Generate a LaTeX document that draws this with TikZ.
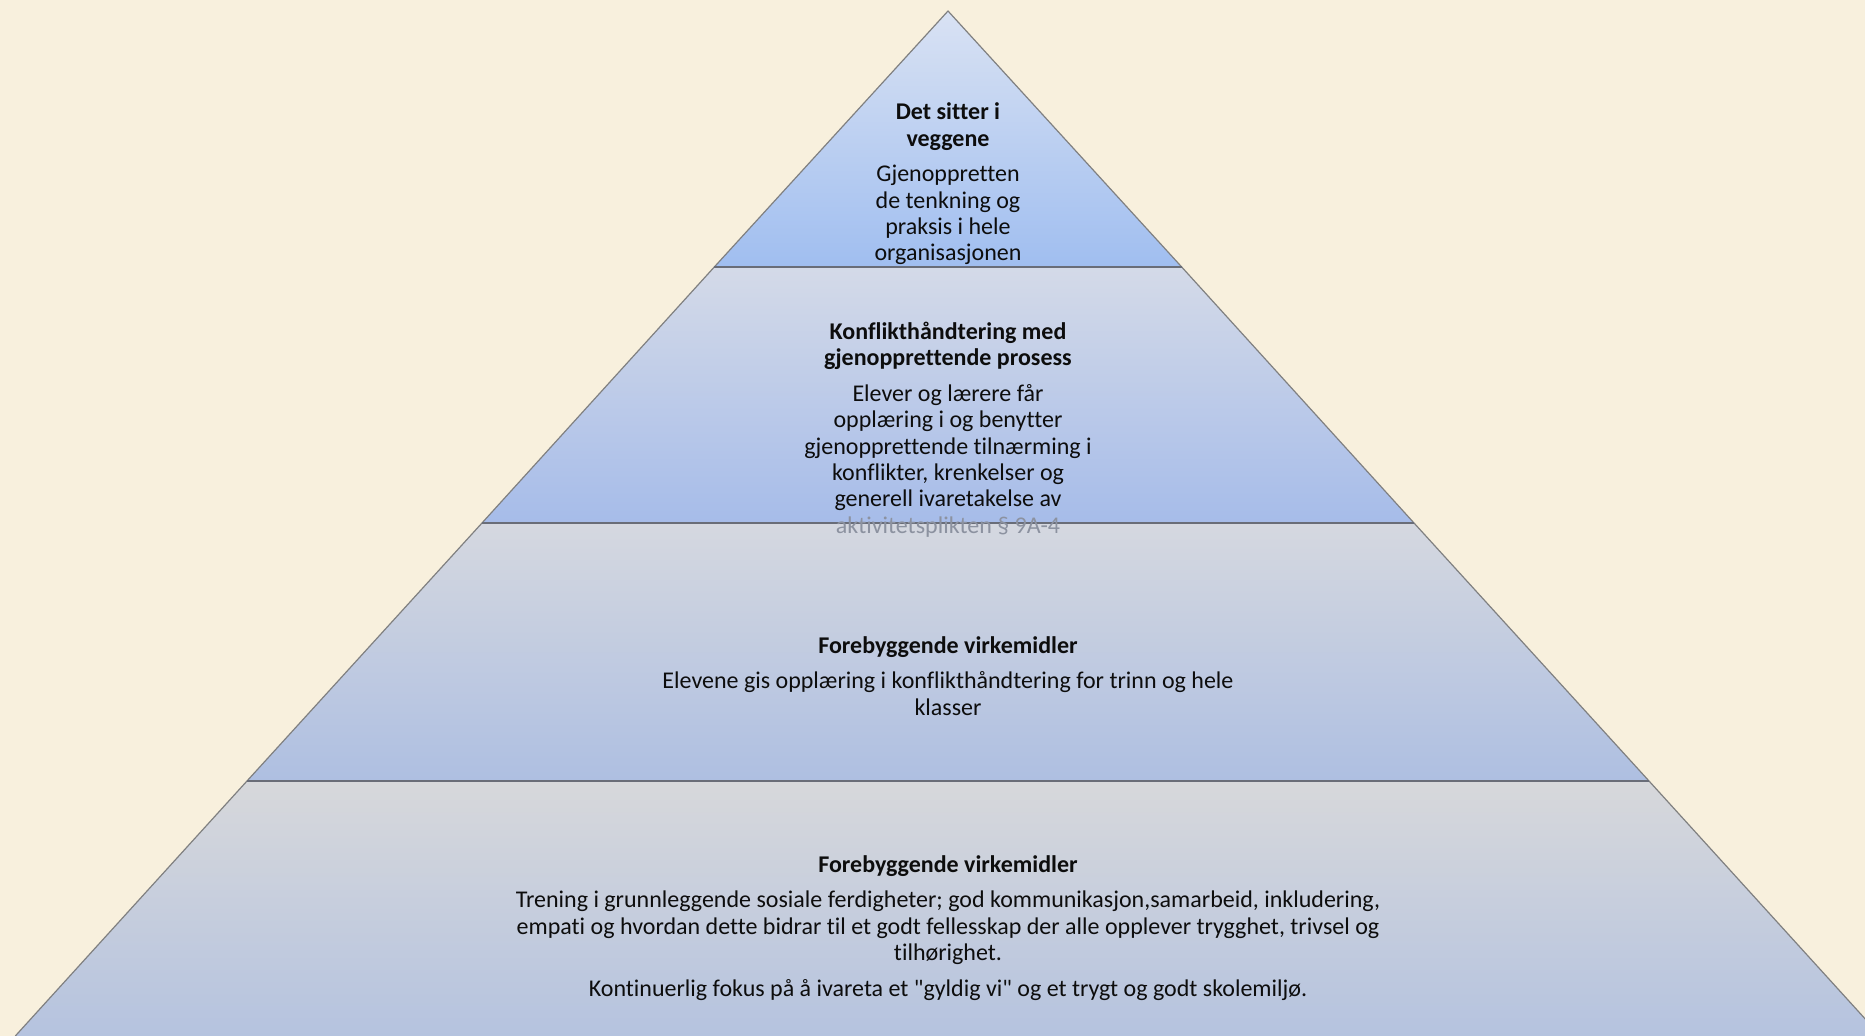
\documentclass[tikz,border=0pt]{standalone}
\usepackage{fontspec}
\setmainfont[Ligatures={NoCommon}]{Carlito}
\usepackage{tikz}

\definecolor{bgcream}{RGB}{248,240,221}
\definecolor{edgegray}{RGB}{128,128,128}
\definecolor{divgray}{RGB}{105,109,120}
\definecolor{topA}{RGB}{217,226,243}
\definecolor{topB}{RGB}{160,190,240}
\definecolor{midA}{RGB}{212,218,232}
\definecolor{midB}{RGB}{166,188,233}
\definecolor{lowA}{RGB}{213,216,224}
\definecolor{lowB}{RGB}{174,191,225}
\definecolor{baseA}{RGB}{215,216,219}
\definecolor{baseB}{RGB}{181,195,223}
\definecolor{txtdark}{RGB}{13,13,13}
\definecolor{txtfaded}{RGB}{140,146,160}

\begin{document}
\begin{tikzpicture}[x=0.5pt,y=0.5pt,yscale=-1,
    band/.style={draw=edgegray,line width=0.6pt,line join=round},
    divider/.style={draw=divgray,line width=1.1pt},
    layertext/.style={align=center,inner sep=0pt,text=txtdark,
      font=\fontsize{12}{13.2}\selectfont}]
%set diagram area: 1865 x 1036
\fill [bgcream] (0,0) rectangle (1865,1036);
\useasboundingbox (0,0) rectangle (1865,1036);
\clip (0,0) rectangle (1865,1036);

    %Corners of the pyramid
    \coordinate (apex) at (948,11);
    \coordinate (l1) at (714.3,267);
    \coordinate (r1) at (1181.7,267);
    \coordinate (l2) at (482,523);
    \coordinate (r2) at (1414,523);
    \coordinate (l3) at (247,781);
    \coordinate (r3) at (1649,781);
    \coordinate (l4) at (15.3,1036);
    \coordinate (r4) at (1880.7,1036);

    %Shape: Band 4 (base)
    \shade [top color=baseA,bottom color=baseB] (l3) -- (r3) -- (r4) -- (l4) -- cycle;
    \draw [band] (r3) -- (r4) (l4) -- (l3);
    %Shape: Band 3
    \shade [top color=lowA,bottom color=lowB] (l2) -- (r2) -- (r3) -- (l3) -- cycle;
    \draw [band] (r2) -- (r3) (l3) -- (l2);
    %Shape: Band 2
    \shade [top color=midA,bottom color=midB] (l1) -- (r1) -- (r2) -- (l2) -- cycle;
    \draw [band] (r1) -- (r2) (l2) -- (l1);
    %Shape: Band 1 (top)
    \shade [top color=topA,bottom color=topB] (apex) -- (r1) -- (l1) -- cycle;
    \draw [band] (l1) -- (apex) -- (r1);
    %Straight Lines: dividers
    \draw [divider] (l1) -- (r1);
    \draw [divider] (l2) -- (r2);
    \draw [divider] (l3) -- (r3);

    % Text Node
    \node [layertext] (veggene) at (948,184) {\textbf{Det sitter i}\\\textbf{veggene}\\[4.6pt]
      Gjenoppretten\\de tenkning og\\praksis i hele\\organisasjonen};
    % Text Node
    \node [layertext] (konflikt) at (948,429.5) {\textbf{Konflikthåndtering med}\\\textbf{gjenopprettende prosess}\\[4.6pt]
      Elever og lærere får\\opplæring i og benytter\\gjenopprettende tilnærming i\\konflikter, krenkelser og\\generell ivaretakelse av\\
      {\color{txtfaded}aktivitetsplikten § 9A-4}};
    % Text Node
    \node [layertext] (trinn) at (948,676) {\textbf{Forebyggende virkemidler}\\[4.6pt]
      Elevene gis opplæring i konflikthåndtering for trinn og hele\\klasser};
    % Text Node
    \node [layertext] (skolemiljo) at (948,928) {\textbf{Forebyggende virkemidler}\\[4.6pt]
      Trening i grunnleggende sosiale ferdigheter; god kommunikasjon,samarbeid, inkludering,\\
      empati og hvordan dette bidrar til et godt fellesskap der alle opplever trygghet, trivsel og\\
      tilhørighet.\\[4.6pt]
      Kontinuerlig fokus på å ivareta et \textquotedbl gyldig vi\textquotedbl{} og et trygt og godt skolemiljø.};

\end{tikzpicture}
\end{document}
